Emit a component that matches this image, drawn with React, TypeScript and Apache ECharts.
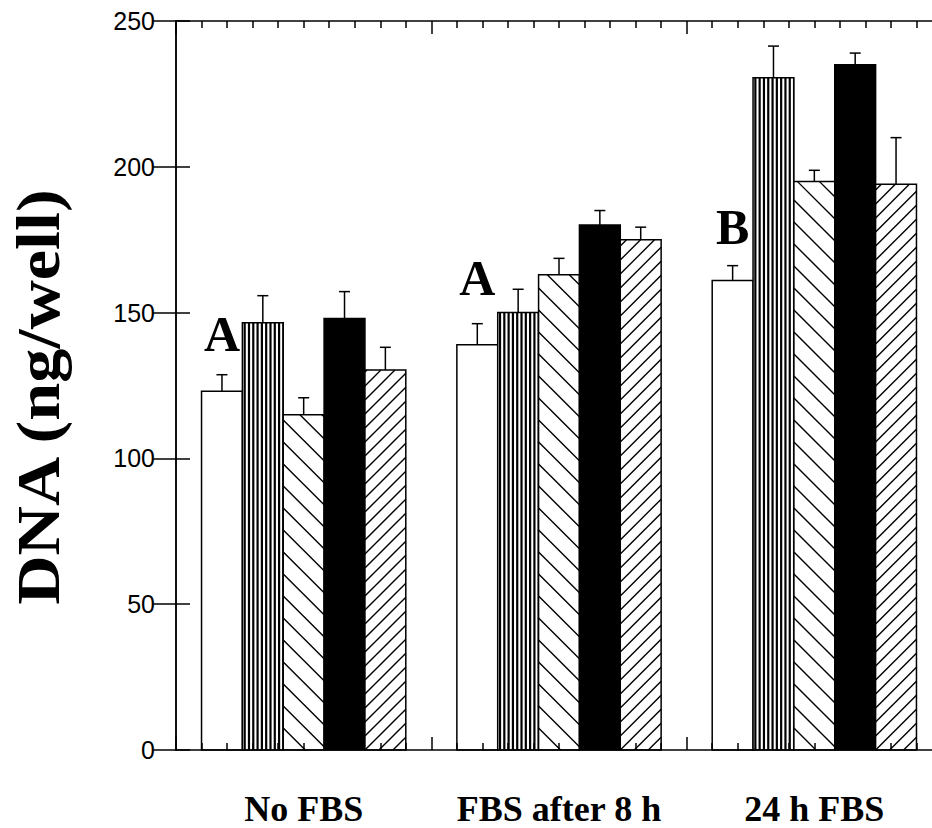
import React, { useEffect, useRef } from "react";
import * as echarts from "echarts";

const categories = ["No FBS", "FBS after 8 h", "24 h FBS"];

const plainValues = [123, 139, 161];
const plainErrors = [5.7, 7.2, 5.1];
const verticalValues = [146.5, 150, 230.5];
const verticalErrors = [9.3, 8, 10.9];
const backslashValues = [115, 163, 195];
const backslashErrors = [5.8, 5.6, 3.8];
const solidValues = [148, 180, 235];
const solidErrors = [9.2, 5, 4];
const slashValues = [130.3, 175, 194];
const slashErrors = [7.8, 4.3, 16];

const letterLabels = ["A", "A", "B"];
const letterValues = [142.7, 161.7, 179.4];

const yTitle = "DNA (ng/well)";
const yMin = 0;
const yMax = 250;
const yInterval = 50;

type Kind = "plain" | "vertical" | "backslash" | "solid" | "slash";

const seriesDefs: { name: string; kind: Kind; values: number[]; errors: number[] }[] = [
  { name: "plain", kind: "plain", values: plainValues, errors: plainErrors },
  { name: "vertical", kind: "vertical", values: verticalValues, errors: verticalErrors },
  { name: "backslash", kind: "backslash", values: backslashValues, errors: backslashErrors },
  { name: "solid", kind: "solid", values: solidValues, errors: solidErrors },
  { name: "slash", kind: "slash", values: slashValues, errors: slashErrors },
];

const BAR_FRACTION = 0.8;
const N_BARS = 5;

function makeRenderItem(slot: number, kind: Kind) {
  return (params: any, api: any) => {
    const idx = api.value(0);
    const mean = api.value(1);
    const err = api.value(2);
    const catW = api.size([1, 0])[0];
    const bw = (catW * BAR_FRACTION) / N_BARS;
    const c0 = api.coord([idx, 0]);
    const cx = c0[0];
    const base = c0[1];
    const top = api.coord([idx, mean])[1];
    const errTop = api.coord([idx, mean + err])[1];
    const x0 = cx + (slot - N_BARS / 2) * bw;
    const x1 = x0 + bw;
    const xc = (x0 + x1) / 2;
    const children: any[] = [];
    children.push({
      type: "rect",
      shape: { x: x0, y: top, width: bw, height: base - top },
      style: { fill: kind === "solid" ? "#000" : "#fff" },
    });
    if (kind === "vertical") {
      const period = 4.3;
      const sw = 2.2;
      for (let x = x0 + 1.2; x < x1 - 0.3; x += period) {
        children.push({
          type: "rect",
          shape: { x, y: top, width: Math.min(sw, x1 - x), height: base - top },
          style: { fill: "#000" },
        });
      }
    } else if (kind === "backslash") {
      const sp = 22;
      // y = x + c
      const cStart = base - x0;
      for (let c = cStart; c > top - x1 - sp; c -= sp) {
        const xa = Math.max(x0, top - c);
        const xb = Math.min(x1, base - c);
        if (xb - xa > 0.5) {
          children.push({
            type: "line",
            shape: { x1: xa, y1: xa + c, x2: xb, y2: xb + c },
            style: { stroke: "#000", lineWidth: 1.4 },
          });
        }
      }
    } else if (kind === "slash") {
      const sp = 14;
      // y = -x + c
      const cStart = x0 + base;
      for (let c = cStart + sp * 4; c > x0 + top - sp; c -= sp) {
        const xa = Math.max(x0, c - base);
        const xb = Math.min(x1, c - top);
        if (xb - xa > 0.5) {
          children.push({
            type: "line",
            shape: { x1: xa, y1: c - xa, x2: xb, y2: c - xb },
            style: { stroke: "#000", lineWidth: 1.4 },
          });
        }
      }
    }
    children.push({
      type: "rect",
      shape: { x: x0, y: top, width: bw, height: base - top },
      style: { fill: "none", stroke: "#000", lineWidth: 1.5 },
    });
    const capW = 11;
    children.push({
      type: "line",
      shape: { x1: xc, y1: top, x2: xc, y2: errTop },
      style: { stroke: "#000", lineWidth: 1.5 },
    });
    children.push({
      type: "line",
      shape: { x1: xc - capW / 2, y1: errTop, x2: xc + capW / 2, y2: errTop },
      style: { stroke: "#000", lineWidth: 1.5 },
    });
    return { type: "group", children };
  };
}

function letterRenderItem(params: any, api: any) {
  const idx = api.value(0);
  const v = api.value(1);
  const catW = api.size([1, 0])[0];
  const bw = (catW * BAR_FRACTION) / N_BARS;
  const p = api.coord([idx, v]);
  const x = p[0] + (0 - N_BARS / 2) * bw + bw / 2;
  return {
    type: "text",
    x,
    y: p[1],
    style: {
      text: letterLabels[params.dataIndex],
      fontFamily: "Liberation Serif",
      fontWeight: "bold",
      fontSize: 50,
      fill: "#000",
      align: "center",
      verticalAlign: "middle",
    },
  };
}

const tickAxisBase = {
  type: "value",
  min: 0,
  max: 3,
  interval: 1,
  axisLine: { show: true, lineStyle: { color: "#000", width: 1.5 } },
  axisTick: { show: true, inside: true, length: 13, lineStyle: { color: "#000", width: 1.5 } },
  minorTick: { show: true, splitNumber: 10, length: 7, lineStyle: { color: "#000", width: 1.5 } },
  axisLabel: { show: false },
  splitLine: { show: false },
  minorSplitLine: { show: false },
  z: 5,
};

export default function App() {
  const ref = useRef<HTMLDivElement>(null);
  useEffect(() => {
    if (!ref.current) return;
    const chart = echarts.init(ref.current, null, { renderer: "svg" });
    const series: any[] = seriesDefs.map((d, slot) => ({
      type: "custom",
      name: d.name,
      xAxisIndex: 0,
      yAxisIndex: 0,
      encode: { x: 0, y: 1 },
      renderItem: makeRenderItem(slot, d.kind),
      data: d.values.map((v, i) => [i, v, d.errors[i]]),
      z: 2,
    }));
    series.push({
      type: "custom",
      name: "letters",
      xAxisIndex: 0,
      yAxisIndex: 0,
      encode: { x: 0, y: 1 },
      renderItem: letterRenderItem,
      data: letterValues.map((v, i) => [i, v]),
      z: 3,
    });
    chart.setOption({
      animation: false,
      backgroundColor: "#fff",
      grid: {
        left: 176,
        top: 21,
        width: 766,
        height: 729,
        containLabel: false,
        outerBoundsMode: "none",
      },
      graphic: [
        {
          type: "text",
          x: 38,
          y: 397,
          rotation: Math.PI / 2,
          scaleX: 1.12,
          style: {
            text: yTitle,
            fontFamily: "Liberation Serif",
            fontWeight: "bold",
            fontSize: 61,
            fill: "#000",
            align: "center",
            verticalAlign: "middle",
          },
        },
      ],
      xAxis: [
        {
          type: "category",
          data: categories,
          position: "bottom",
          boundaryGap: true,
          axisLine: { show: false },
          axisTick: { show: false },
          splitLine: { show: false },
          axisLabel: {
            interval: 0,
            margin: 44,
            color: "#000",
            fontFamily: "Liberation Serif",
            fontWeight: "bold",
            fontSize: 36,
            lineHeight: 30,
          },
        },
        { ...tickAxisBase, position: "bottom" },
        { ...tickAxisBase, position: "top" },
      ],
      yAxis: [
        {
          type: "value",
          min: yMin,
          max: yMax,
          interval: yInterval,
          position: "left",
          axisLine: { show: true, lineStyle: { color: "#000", width: 1.5 } },
          axisTick: { show: true, inside: true, length: 14, lineStyle: { color: "#000", width: 1.5 } },
          splitLine: { show: false },
          axisLabel: {
            margin: 21,
            color: "#000",
            fontFamily: "Liberation Sans",
            fontSize: 25,
          },
          z: 5,
        },
        {
          type: "value",
          min: yMin,
          max: yMax,
          interval: yInterval,
          position: "right",
          axisLine: { show: true, lineStyle: { color: "#000", width: 1.5 } },
          axisTick: { show: true, inside: true, length: 23, lineStyle: { color: "#000", width: 1.5 } },
          splitLine: { show: false },
          axisLabel: { show: false },
          z: 5,
        },
      ],
      series,
    });
    return () => chart.dispose();
  }, []);
  return (
    <div
      style={{
        position: "absolute",
        left: 0,
        top: 0,
        width: 932,
        height: 828,
        overflow: "hidden",
        background: "#fff",
      }}
    >
      <div ref={ref} style={{ width: 960, height: 828 }} />
    </div>
  );
}
